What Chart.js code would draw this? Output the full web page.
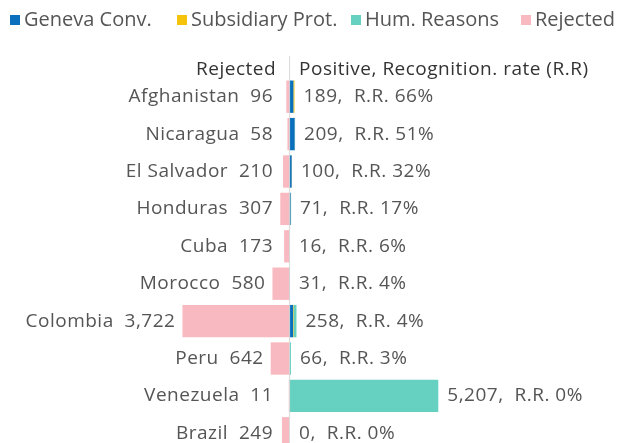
<!DOCTYPE html>
<html>
<head>
<meta charset="utf-8">
<script src="https://cdn.jsdelivr.net/npm/chart.js@4.4.1/dist/chart.umd.min.js"></script>
<style>
  html, body { margin: 0; padding: 0; background: #fff; overflow: hidden; }
  #wrap { position: relative; width: 619px; height: 452px; }
</style>
</head>
<body>
<div id="wrap"><canvas id="chart"></canvas></div>
<script>
// Zemlje i vrijednosti
const countries = ['Afghanistan', 'Nicaragua', 'El Salvador', 'Honduras', 'Cuba', 'Morocco', 'Colombia', 'Peru', 'Venezuela', 'Brazil'];
const rejected = [96, 58, 210, 307, 173, 580, 3722, 642, 11, 249];
const genevaConv = [150, 195, 90, 55, 8, 20, 140, 15, 15, 0];
const subsidiaryProt = [38, 4, 9, 9, 3, 4, 19, 6, 5, 0];
const humReasons = [1, 10, 1, 7, 5, 7, 99, 45, 5187, 0];
const positiveTotal = [189, 209, 100, 71, 16, 31, 258, 66, 5207, 0];
const recognitionRate = ['66%', '51%', '32%', '17%', '6%', '4%', '4%', '3%', '0%', '0%'];

const FONT = '"Open Sans", Lato, sans-serif';
const TEXT = '#555555';

const fmt = n => n.toLocaleString('en-US');

// Legenda i oznake pored stubića
const labelPlugin = {
    id: 'sideLabels',
    afterDatasetsDraw(chart) {
        const { ctx, scales: { x, y }, chartArea } = chart;
        const zero = x.getPixelForValue(0);
        ctx.save();
        ctx.font = '19px ' + FONT;
        ctx.letterSpacing = '0.5px';
        ctx.textBaseline = 'middle';
        ctx.fillStyle = TEXT;
        countries.forEach((name, i) => {
            const yy = y.getPixelForValue(i);
            const left = x.getPixelForValue(-rejected[i]);
            const right = x.getPixelForValue(positiveTotal[i]);
            ctx.textAlign = 'right';
            ctx.fillText(name + '  ' + fmt(rejected[i]), Math.min(zero - 16, left - 7), yy);
            ctx.textAlign = 'left';
            ctx.fillText(fmt(positiveTotal[i]) + ',  R.R. ' + recognitionRate[i], Math.max(zero + 10, right + 9), yy);
        });
        // zaglavlje
        ctx.fillStyle = '#333333';
        ctx.font = '500 19px ' + FONT;
        ctx.textAlign = 'right';
        ctx.fillText('Rejected', zero - 13, 70);
        ctx.textAlign = 'left';
        ctx.fillText('Positive, Recognition. rate (R.R)', zero + 10, 70);
        // vertikalna linija
        ctx.strokeStyle = '#d9d9d9';
        ctx.lineWidth = 1;
        ctx.beginPath();
        ctx.moveTo(zero + 0.5, 56);
        ctx.lineTo(zero + 0.5, chartArea.bottom);
        ctx.stroke();

        // legenda
        ctx.font = '20px ' + FONT;
        ctx.letterSpacing = '0px';
        ctx.textAlign = 'left';
        const legendX = [10, 177, 351, 521];
        chart.data.datasets.forEach((ds, k) => {
            const lx = legendX[k];
            ctx.fillStyle = ds.backgroundColor;
            ctx.fillRect(lx, 15, 10, 10);
            ctx.fillStyle = TEXT;
            ctx.fillText(ds.label, lx + 14, 20);
        });
        ctx.restore();
    }
};

const ctx = document.getElementById('chart').getContext('2d');
const chart = new Chart(ctx, {
    type: 'bar',
    data: {
        labels: countries,
        datasets: [
            { label: 'Geneva Conv.', data: genevaConv, backgroundColor: '#0a70bd', stack: 's' },
            { label: 'Subsidiary Prot.', data: subsidiaryProt, backgroundColor: '#f5c40a', stack: 's' },
            { label: 'Hum. Reasons', data: humReasons, backgroundColor: '#66d1c1', stack: 's' },
            { label: 'Rejected', data: rejected.map(v => -v), backgroundColor: '#f9b9c1', stack: 's' }
        ]
    },
    options: {
        indexAxis: 'y',
        responsive: true,
        maintainAspectRatio: false,
        animation: false,
        layout: { padding: { top: 78, bottom: 0, left: 0, right: 0 } },
        barPercentage: 0.93,
        categoryPercentage: 0.93,
        scales: {
            x: {
                stacked: true,
                min: -10090,
                max: 11515,
                display: false
            },
            y: {
                stacked: true,
                display: false
            }
        },
        plugins: {
            legend: { display: false },
            tooltip: { enabled: false }
        }
    },
    plugins: [labelPlugin]
});
</script>
</body>
</html>
